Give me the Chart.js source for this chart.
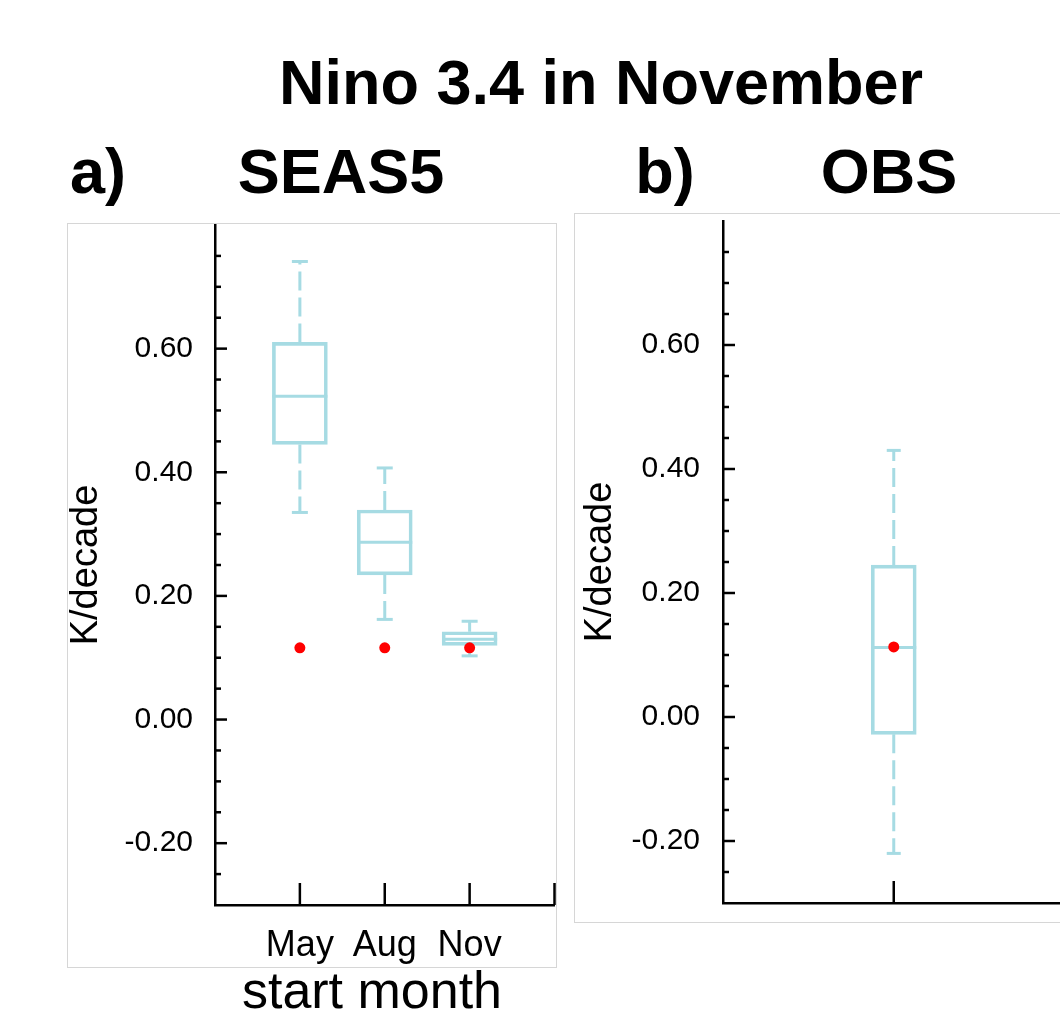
<!DOCTYPE html>
<html>
<head>
<meta charset="utf-8">
<script src="https://cdn.jsdelivr.net/npm/chart.js@4.4.0/dist/chart.umd.min.js"></script>
<style>
  html, body { margin: 0; padding: 0; background: #fff; overflow: hidden; width: 1060px; height: 1015px; }
  .txt { position: absolute; font-family: "Liberation Sans", Arial, sans-serif; color: #000; line-height: 1; white-space: nowrap; text-align: center; }
  .big { font-weight: bold; font-size: 63px; }
  .frame { position: absolute; border: 1px solid #d6d6d6; box-sizing: border-box; }
  canvas { position: absolute; }
</style>
</head>
<body>
<div class="frame" style="left:67px;top:223px;width:490px;height:745px"></div>
<div class="frame" style="left:574px;top:213px;width:520px;height:710px"></div>

<div class="txt big" style="left:201px;top:51px;width:800px">Nino 3.4 in November</div>
<div class="txt big" style="left:48px;top:140px;width:100px">a)</div>
<div class="txt big" style="left:191px;top:140px;width:300px">SEAS5</div>
<div class="txt big" style="left:615px;top:140px;width:100px">b)</div>
<div class="txt big" style="left:789px;top:140px;width:200px">OBS</div>
<div class="txt" style="left:172px;top:964px;width:400px;font-size:52px">start month</div>

<canvas id="seasChart" width="560" height="767" style="left:0px;top:200px"></canvas>
<canvas id="obsChart" width="500" height="726" style="left:570px;top:196px"></canvas>

<script>
// y axis tick labels (shared by both panels)
const yLabelValues = [-0.2, 0.0, 0.2, 0.4, 0.6];
const yLabelText = ["-0.20", "0.00", "0.20", "0.40", "0.60"];

// a) SEAS5 ensemble trends by start month
const seasMonths = ["May", "Aug", "Nov"];
const seasPositions = [1, 2, 3];
const seasWhiskerLow = [0.335, 0.162, 0.103];
const seasQ1 = [0.445, 0.234, 0.120];
const seasMedian = [0.523, 0.287, 0.130];
const seasQ3 = [0.610, 0.339, 0.142];
const seasWhiskerHigh = [0.741, 0.407, 0.159];
const seasObsTrend = [0.116, 0.116, 0.116];

// b) observations
const obsPositions = [1];
const obsWhiskerLow = [-0.22];
const obsQ1 = [-0.028];
const obsMedian = [0.112];
const obsQ3 = [0.245];
const obsWhiskerHigh = [0.43];
const obsTrend = [0.113];

const boxColour = "#a6dbe3";
Chart.defaults.font.family = '"Liberation Sans", Arial, sans-serif';
Chart.defaults.color = "#000";

function strokeLine(ctx, x1, y1, x2, y2) {
  ctx.beginPath();
  ctx.moveTo(x1, y1);
  ctx.lineTo(x2, y2);
  ctx.stroke();
}

// whiskers, caps and medians under the boxes; inward ticks on the axes
const boxWhiskerPlugin = {
  id: "boxWhisker",
  beforeDatasetsDraw(chart, args, opts) {
    const ctx = chart.ctx;
    const xs = chart.scales.x;
    const ys = chart.scales.y;
    ctx.save();
    ctx.strokeStyle = boxColour;
    ctx.lineWidth = 3;
    opts.pos.forEach((p, i) => {
      const x = xs.getPixelForValue(p);
      const yLow = ys.getPixelForValue(opts.low[i]);
      const yHigh = ys.getPixelForValue(opts.high[i]);
      const yQ1 = ys.getPixelForValue(opts.q1[i]);
      const yQ3 = ys.getPixelForValue(opts.q3[i]);
      const yMed = ys.getPixelForValue(opts.med[i]);
      // dashes start at the box and run outwards
      ctx.setLineDash([19, 7]);
      strokeLine(ctx, x, yQ3, x, yHigh);
      strokeLine(ctx, x, yQ1, x, yLow);
      ctx.setLineDash([]);
      strokeLine(ctx, x - opts.capHalf, yHigh, x + opts.capHalf, yHigh);
      strokeLine(ctx, x - opts.capHalf, yLow, x + opts.capHalf, yLow);
      strokeLine(ctx, x - opts.boxHalf, yMed, x + opts.boxHalf, yMed);
    });
    ctx.restore();
  },
  afterDraw(chart, args, opts) {
    const ctx = chart.ctx;
    const area = chart.chartArea;
    const xs = chart.scales.x;
    const ys = chart.scales.y;
    ctx.save();
    ctx.strokeStyle = "#000";
    ctx.lineWidth = 2.5;
    ys.ticks.forEach((t) => {
      if (t.value <= ys.min + 1e-6 || t.value >= ys.max - 1e-6) return;
      const major = Math.abs(Math.round(t.value * 100)) % 20 === 0;
      const y = ys.getPixelForValue(t.value);
      strokeLine(ctx, area.left, y, area.left + (major ? 12 : 6), y);
    });
    opts.xTicks.forEach((v) => {
      const x = xs.getPixelForValue(v);
      strokeLine(ctx, x, area.bottom, x, area.bottom - 22);
    });
    ctx.restore();
  },
};

function makeBoxChart(canvasName, d) {
  const config = {
    type: "bar",
    data: {
      datasets: [
        {
          type: "scatter",
          data: d.pos.map((p, i) => ({ x: p, y: d.dot[i] })),
          pointRadius: 5.5,
          pointBackgroundColor: "#ff0000",
          pointBorderWidth: 0,
        },
        {
          type: "bar",
          data: d.pos.map((p, i) => ({ x: p, y: [d.q1[i], d.q3[i]] })),
          backgroundColor: "rgba(0,0,0,0)",
          borderColor: boxColour,
          borderWidth: 3,
          borderSkipped: false,
          barThickness: d.boxWidth,
        },
      ],
    },
    options: {
      responsive: false,
      animation: false,
      devicePixelRatio: 1,
      layout: { padding: d.padding },
      plugins: {
        legend: { display: false },
        tooltip: { enabled: false },
        boxWhisker: {
          pos: d.pos, low: d.low, q1: d.q1, med: d.med, q3: d.q3, high: d.high,
          capHalf: d.capHalf, boxHalf: d.boxWidth / 2, xTicks: d.xTicks,
        },
      },
      scales: {
        x: {
          type: "linear",
          offset: false,
          min: 0,
          max: d.xMax,
          grid: { display: false, drawTicks: false, offset: false },
          border: { color: "#000", width: 2.5 },
          ticks: {
            stepSize: 1,
            autoSkip: false,
            maxRotation: 0,
            padding: 19,
            font: { size: 36 },
            callback: (v) => {
              const i = d.pos.indexOf(v);
              return i >= 0 && d.labels ? d.labels[i] : "";
            },
          },
          afterFit: (scale) => {
            scale.height = d.xHeight;
            scale.paddingLeft = 0;
            scale.paddingRight = 0;
          },
        },
        y: {
          min: -0.3,
          max: 0.8,
          grid: { display: false, drawTicks: false },
          border: { color: "#000", width: 2.5 },
          ticks: {
            stepSize: 0.05,
            autoSkip: false,
            padding: d.yLabelPad,
            font: { size: 30 },
            callback: (v) => {
              const i = yLabelValues.findIndex((t) => Math.abs(t - v) < 1e-6);
              return i >= 0 ? yLabelText[i] : "";
            },
          },
          title: {
            display: true,
            text: "K/decade",
            font: { size: 38, lineHeight: 1.2 },
            padding: { top: d.titlePad, bottom: 0 },
          },
          afterFit: (scale) => {
            scale.width = d.yWidth;
            scale.paddingTop = 0;
            scale.paddingBottom = 0;
          },
        },
      },
    },
    plugins: [boxWhiskerPlugin],
  };
  new Chart(document.getElementById(canvasName), config);
}

makeBoxChart("seasChart", {
  pos: seasPositions, labels: seasMonths,
  low: seasWhiskerLow, q1: seasQ1, med: seasMedian, q3: seasQ3, high: seasWhiskerHigh,
  dot: seasObsTrend,
  xMax: 4, xTicks: [1, 2, 3, 4],
  boxWidth: 55, capHalf: 8,
  padding: { left: 0, top: 25, right: 5, bottom: 0 },
  xHeight: 62, yWidth: 215, yLabelPad: 22, titlePad: 64,
});

makeBoxChart("obsChart", {
  pos: obsPositions, labels: null,
  low: obsWhiskerLow, q1: obsQ1, med: obsMedian, q3: obsQ3, high: obsWhiskerHigh,
  dot: obsTrend,
  xMax: 2, xTicks: [1, 2],
  boxWidth: 45, capHalf: 7,
  padding: { left: 0, top: 25, right: 3, bottom: 0 },
  xHeight: 19, yWidth: 153, yLabelPad: 23, titlePad: 8,
});
</script>
</body>
</html>
